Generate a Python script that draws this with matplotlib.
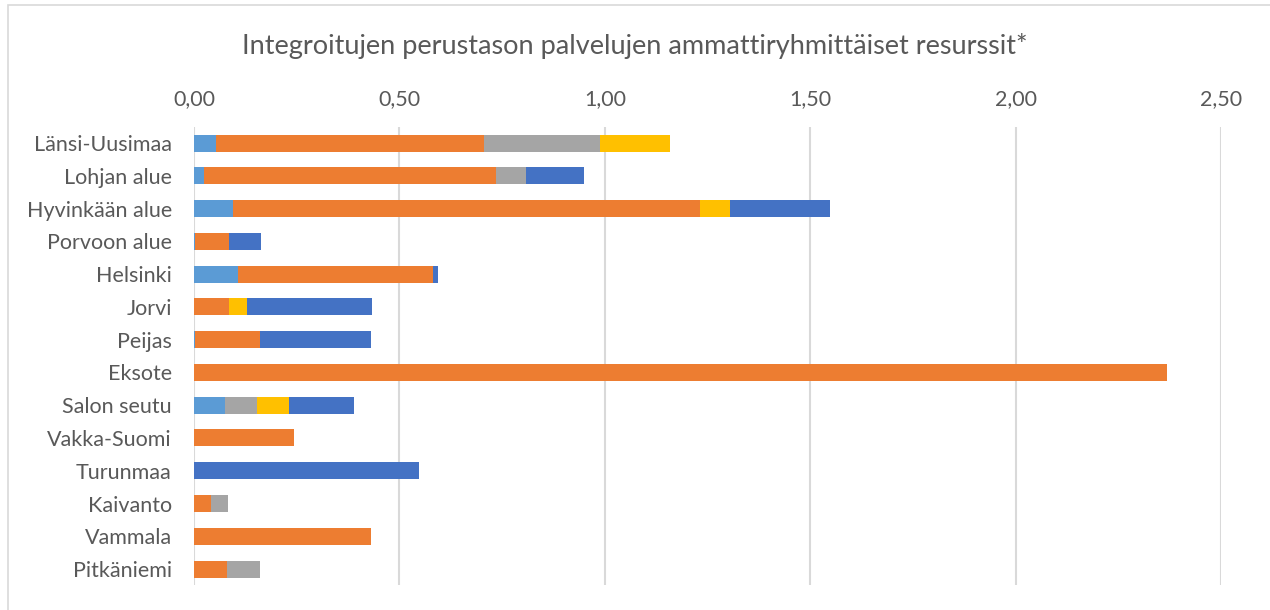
import matplotlib.pyplot as plt
from matplotlib.patches import Rectangle
from matplotlib.ticker import FuncFormatter
import numpy as np

# data
categories = ["Länsi-Uusimaa", "Lohjan alue", "Hyvinkään alue", "Porvoon alue", "Helsinki",
              "Jorvi", "Peijas", "Eksote", "Salon seutu", "Vakka-Suomi", "Turunmaa",
              "Kaivanto", "Vammala", "Pitkäniemi"]
s_lightblue = [0.054, 0.025, 0.096, 0.003, 0.108, 0.0, 0.002, 0.0, 0.076, 0.0, 0.0, 0.0, 0.0, 0.0]
s_orange = [0.651, 0.710, 1.136, 0.081, 0.474, 0.084, 0.159, 2.369, 0.0, 0.243, 0.0, 0.042, 0.430, 0.079]
s_gray = [0.283, 0.073, 0.0, 0.0, 0.0, 0.0, 0.0, 0.0, 0.078, 0.0, 0.0, 0.040, 0.0, 0.081]
s_yellow = [0.171, 0.0, 0.073, 0.0, 0.0, 0.045, 0.0, 0.0, 0.078, 0.0, 0.0, 0.0, 0.0, 0.0]
s_blue = [0.0, 0.141, 0.243, 0.079, 0.011, 0.304, 0.270, 0.0, 0.157, 0.0, 0.547, 0.0, 0.0, 0.0]

series = [s_lightblue, s_orange, s_gray, s_yellow, s_blue]
colors = ["#5B9BD5", "#ED7D31", "#A5A5A5", "#FFC000", "#4472C4"]

plt.rcParams['font.family'] = ['Lato', 'DejaVu Sans']

fig = plt.figure(figsize=(12.7, 6.1), dpi=100)
ax = fig.add_axes([0.1528, 0.0403, 0.8087, 0.752])

y = np.arange(len(categories))
left = np.zeros(len(categories))
for vals, c in zip(series, colors):
    ax.barh(y, vals, left=left, height=0.52, color=c, zorder=3)
    left += np.array(vals)

ax.set_ylim(len(categories) - 0.5, -0.5)
ax.set_yticks(y)
ax.set_yticklabels(categories)
ax.set_xlim(0, 2.5)
ax.set_xticks(np.arange(0, 2.51, 0.5))
ax.xaxis.set_major_formatter(FuncFormatter(lambda v, p: f"{v:.2f}".replace(".", ",")))
ax.xaxis.tick_top()
ax.tick_params(length=0, labelsize=15.5, colors="#595959")
ax.tick_params(axis="x", pad=13)
ax.tick_params(axis="y", pad=16)
ax.grid(axis="x", color="#D9D9D9", linewidth=1.5, zorder=0)
for s in ax.spines.values():
    s.set_visible(False)

fig.text(0.5, 0.925, "Integroitujen perustason palvelujen ammattiryhmittäiset resurssit*",
         ha="center", va="center", fontsize=19.5, color="#595959")

# chart area border
fig.patches.append(Rectangle((8 / 1270, -0.1), 1.2, 1 - 5 / 610 + 0.1, transform=fig.transFigure,
                             fill=False, edgecolor="#D9D9D9", linewidth=1.2))

fig.savefig("out.png", dpi=100)
